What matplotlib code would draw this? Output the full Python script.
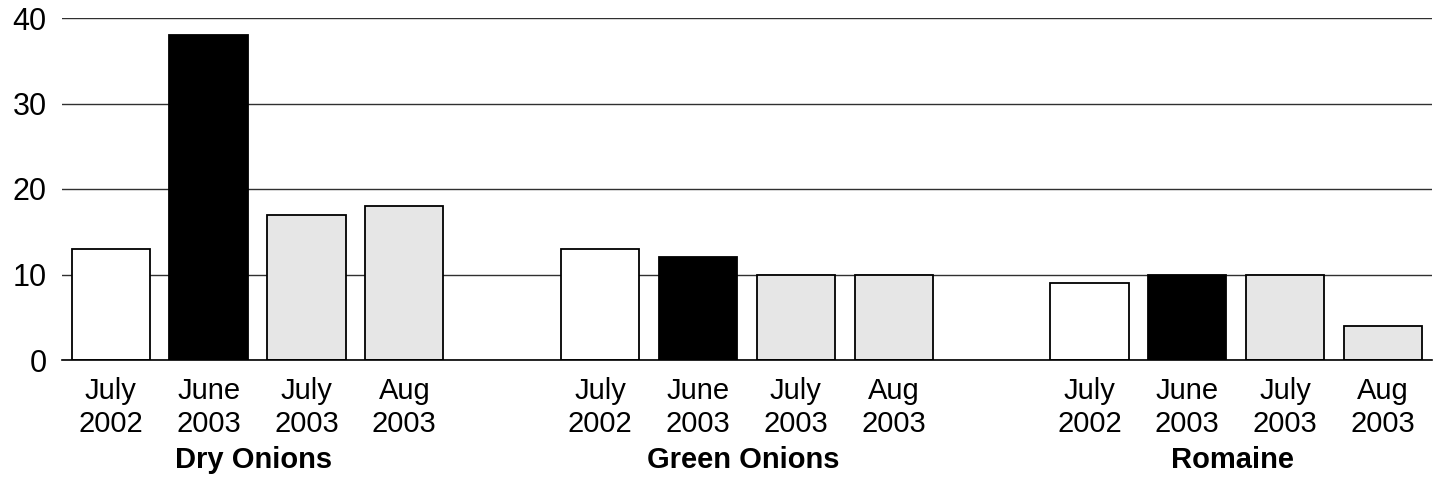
import matplotlib.pyplot as plt
import numpy as np

plt.rcParams['font.family'] = ['Liberation Sans', 'DejaVu Sans']

# datos
grupos = ["Dry Onions", "Green Onions", "Romaine"]
periodos = ["July\n2002", "June\n2003", "July\n2003", "Aug\n2003"]
dry_onions = [13, 38, 17, 18]
green_onions = [13, 12, 10, 10]
romaine = [9, 10, 10, 4]
colores = ["white", "black", "#e6e6e6", "#e6e6e6"]

valores = [dry_onions, green_onions, romaine]

fig = plt.figure(figsize=(14.37, 4.8), dpi=100)
ax = fig.add_axes([0.043, 0.25, 0.9535, 0.7125])

xs = []
labels = []
for g, serie in enumerate(valores):
    pos = np.arange(len(serie)) + g * (len(serie) + 1)
    ax.bar(pos, serie, width=0.8, color=colores, edgecolor="black", linewidth=1.3, zorder=3)
    xs.extend(pos)
    labels.extend(periodos)
    ax.text(pos.mean() - 0.04, -0.292, grupos[g], transform=ax.get_xaxis_transform(),
            ha="center", va="center", fontsize=21, fontweight="bold")

ax.set_xlim(-0.5, 13.5)
ax.set_ylim(0, 40)
ax.set_yticks([0, 10, 20, 30, 40])
ax.set_xticks(xs)
ax.set_xticklabels(labels, fontsize=21, linespacing=1.22)
ax.tick_params(axis="y", labelsize=22, length=0, pad=11)
ax.tick_params(axis="x", length=0, pad=12)

ax.grid(axis="y", color="#303030", linewidth=1, zorder=0)
for s in ["top", "right", "left"]:
    ax.spines[s].set_visible(False)
ax.spines["bottom"].set_color("black")
ax.spines["bottom"].set_linewidth(1.2)
ax.spines["bottom"].set_zorder(4)

fig.savefig("out.png", dpi=100)
